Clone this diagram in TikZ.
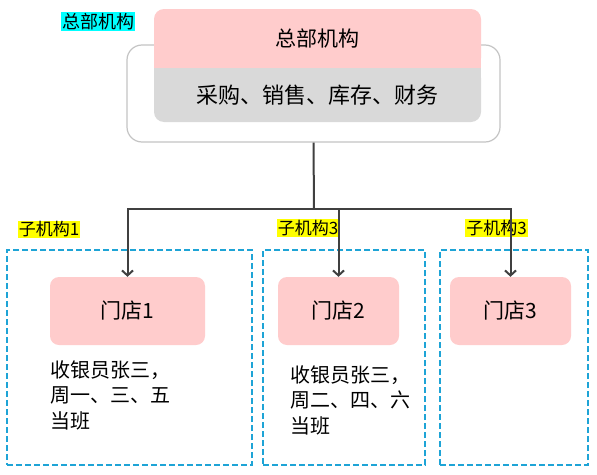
\documentclass[tikz,border=0pt]{standalone}
\usepackage{fontspec}
\setmainfont{Noto Sans CJK SC}
\definecolor{hqpink}{RGB}{255, 204, 204}
\definecolor{hqgray}{RGB}{217, 217, 217}
\definecolor{framegray}{RGB}{196, 196, 196}
\definecolor{dashblue}{RGB}{30, 164, 214}
\definecolor{linkgray}{RGB}{64, 64, 64}
\definecolor{tagcyan}{RGB}{0, 255, 255}
\definecolor{tagyellow}{RGB}{255, 255, 0}
\usetikzlibrary{arrows.meta, positioning}

\tikzset{
  branchbox/.style={draw=dashblue, dash pattern=on 6pt off 3pt, line width=1.6pt, minimum height=215pt},
  storebox/.style={fill=hqpink, rounded corners=9pt, minimum height=68pt, font=\fontsize{21}{26}\selectfont},
  tagbox/.style={inner sep=1pt, font=\fontsize{17}{20}\selectfont},
  dutytext/.style={anchor=north west, align=left, inner sep=0pt, font=\fontsize{20}{25.5}\selectfont},
  link/.style={draw=linkgray, line width=2pt}
}

\begin{document}
\begin{tikzpicture}[x=1pt, y=-1pt]
  \useasboundingbox[fill=white] (0,0) rectangle (597,474);

  % Headquarters
  \node[draw=framegray, fill=white, rounded corners=15pt, line width=1.2pt, minimum width=373pt, minimum height=97pt] (hqframe) at (313.5, 93.5) {};
  \node[fill=hqgray, rounded corners=10pt, minimum width=327pt, minimum height=54pt, font=\fontsize{22}{26}\selectfont] (hqdept) at (317.5, 95) {采购、销售、库存、财务};
  \node[fill=hqpink, rounded corners=10pt, minimum width=327pt, minimum height=59pt, font=\fontsize{21}{26}\selectfont] (hq) at (317.5, 38.5) {总部机构};
  \fill[hqgray] (hqdept.north west) rectangle ([yshift=-10pt]hqdept.north east);
  \fill[hqpink] (hq.south west) rectangle ([yshift=10pt]hq.south east);
  \node[tagbox, fill=tagcyan, font=\fontsize{18}{20}\selectfont] (hqtag) at (98, 21.5) {总部机构};

  % Branches
  \node[branchbox, minimum width=245pt] (branch1) at (129.5, 357.5) {};
  \node[branchbox, minimum width=162pt] (branch2) at (344, 357.5) {};
  \node[branchbox, minimum width=148pt] (branch3) at (514, 357.5) {};

  \node[tagbox, fill=tagyellow] (tag1) at (49, 229.5) {子机构1};
  \node[tagbox, fill=tagyellow] (tag2) at (308, 228) {子机构3};
  \node[tagbox, fill=tagyellow] (tag3) at (496.5, 228) {子机构3};

  % Stores
  \node[storebox, minimum width=155pt] (store1) at (127.5, 311) {门店1};
  \node[storebox, minimum width=121pt] (store2) at (338.5, 311) {门店2};
  \node[storebox, minimum width=121pt] (store3) at (510.5, 311) {门店3};

  \node[dutytext] (duty1) at (50, 360) {收银员张三，\\周一、三、五\\当班};
  \node[dutytext] (duty2) at (290, 365) {收银员张三，\\周二、四、六\\当班};

  % Connectors
  \coordinate (bus) at (314, 208.5);
  \draw[link] (hqframe.south) -- (bus);
  \foreach \s in {store1, store2, store3}
    \draw[link, -{Straight Barb[length=5pt, width=11pt]}] (bus) -| (\s.north);
\end{tikzpicture}
\end{document}
